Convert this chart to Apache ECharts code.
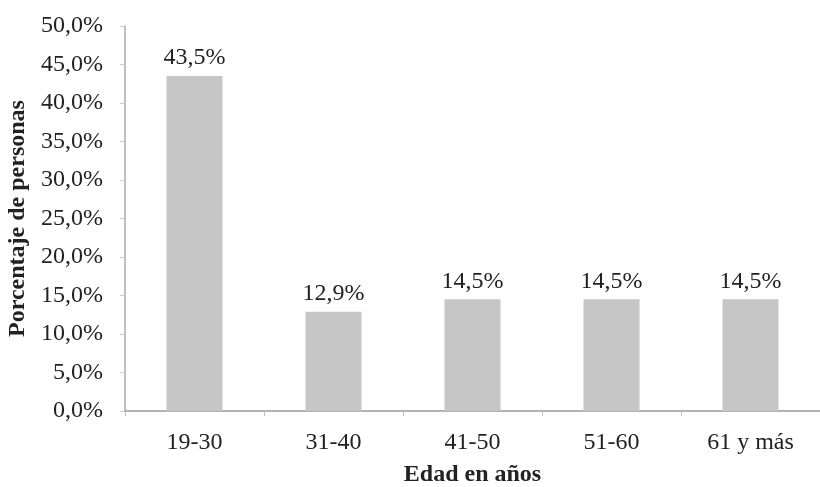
<!DOCTYPE html>
<html lang="es">
<head>
    <meta charset="UTF-8">
    <title>Edad en años</title>
    <script src="https://cdn.jsdelivr.net/npm/echarts@6/dist/echarts.min.js"></script>
    <style>
        html, body { margin: 0; padding: 0; background: #fff; }
        #chart { width: 820px; height: 487px; }
    </style>
</head>
<body>
    <div id="chart"></div>
    <script>
        const categories = ['19-30', '31-40', '41-50', '51-60', '61 y más'];
        const percentages = [43.5, 12.9, 14.5, 14.5, 14.5];

        const fmt = v => v.toFixed(1).replace('.', ',') + '%';
        const serif = '"Liberation Serif", "DejaVu Serif", serif';

        const chart = echarts.init(document.getElementById('chart'));
        chart.setOption({
            backgroundColor: '#ffffff',
            animation: false,
            grid: { left: 125, right: 0, top: 26, bottom: 76, outerBoundsMode: 'none', containLabel: false },
            xAxis: {
                type: 'category',
                data: categories,
                name: 'Edad en años',
                nameLocation: 'middle',
                nameGap: 52,
                nameTextStyle: { fontFamily: serif, fontSize: 24, fontWeight: 'bold', color: '#222' },
                axisLine: { lineStyle: { color: '#999', width: 1.5 } },
                axisTick: { show: true, length: 5, lineStyle: { color: '#bbb' } },
                axisLabel: { fontFamily: serif, fontSize: 24, color: '#222', margin: 20 }
            },
            yAxis: {
                type: 'value',
                min: 0,
                max: 50,
                interval: 5,
                name: 'Porcentaje de personas',
                nameLocation: 'middle',
                nameGap: 88,
                nameTextStyle: { fontFamily: serif, fontSize: 24, fontWeight: 'bold', color: '#222' },
                axisLine: { show: true, lineStyle: { color: '#aaa', width: 1.5 } },
                axisTick: { show: true, length: 5, lineStyle: { color: '#ccc' } },
                splitLine: { show: false },
                axisLabel: { fontFamily: serif, fontSize: 24, color: '#222', margin: 22, formatter: fmt }
            },
            series: [{
                type: 'bar',
                data: percentages,
                barWidth: 56,
                itemStyle: { color: '#c6c6c6' },
                label: {
                    show: true,
                    position: 'top',
                    distance: 6,
                    fontFamily: serif,
                    fontSize: 24,
                    color: '#222',
                    formatter: p => fmt(p.value)
                }
            }]
        });
    </script>
</body>
</html>
